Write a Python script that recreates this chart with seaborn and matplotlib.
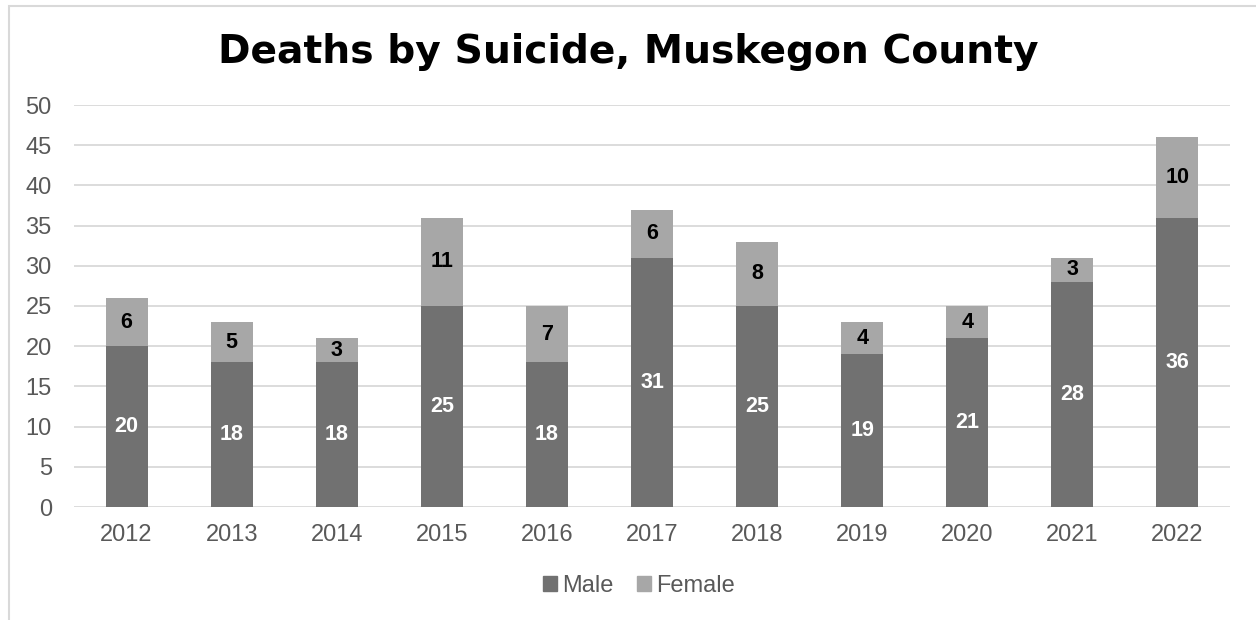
import matplotlib
matplotlib.use("Agg")
import matplotlib.pyplot as plt
import seaborn as sns
import pandas as pd
from matplotlib.patches import Rectangle, Patch

years = ["2012", "2013", "2014", "2015", "2016", "2017", "2018", "2019", "2020", "2021", "2022"]
male = [20, 18, 18, 25, 18, 31, 25, 19, 21, 28, 36]
female = [6, 5, 3, 11, 7, 6, 8, 4, 4, 3, 10]

MALE_C = "#717171"
FEMALE_C = "#A7A7A7"
TXT = "#595959"

sns.set_theme(style="white")
plt.rcParams['font.family'] = ['Liberation Sans', 'DejaVu Sans']

df = pd.DataFrame({"year": years, "male": male, "female": female})
df["total"] = df["male"] + df["female"]

fig = plt.figure(figsize=(12.56, 6.2), dpi=100)
ax = fig.add_axes([74/1256, 1-507/620, (1230-74)/1256, (507-105)/620])

sns.barplot(data=df, x="year", y="total", color=FEMALE_C, width=0.4, ax=ax,
            saturation=1, linewidth=0)
sns.barplot(data=df, x="year", y="male", color=MALE_C, width=0.4, ax=ax,
            saturation=1, linewidth=0)

for i, (m, f) in enumerate(zip(male, female)):
    ax.text(i, m/2, str(m), ha="center", va="center", color="white",
            fontsize=15.5, fontweight="bold")
    ax.text(i, m + f/2, str(f), ha="center", va="center", color="black",
            fontsize=15.5, fontweight="bold")

ax.set_xlim(-0.5, len(years) - 0.5)
ax.set_ylim(0, 50)
ax.set_yticks(range(0, 51, 5))
ax.yaxis.grid(True, color="#D9D9D9", linewidth=1.3)
ax.set_axisbelow(True)
for s in ax.spines.values():
    s.set_visible(False)
ax.tick_params(axis="both", length=0, labelsize=17, colors=TXT)
ax.tick_params(axis="y", pad=16)
ax.tick_params(axis="x", pad=12)
ax.set_xlabel("")
ax.set_ylabel("")

fig.text(628/1256, 1-52/620, "Deaths by Suicide, Muskegon County", ha="center",
         va="center", fontsize=28.3, fontweight="bold", color="black",
         family=["DejaVu Sans"])

handles = [Patch(color=MALE_C, label="Male"), Patch(color=FEMALE_C, label="Female")]
fig.legend(handles=handles, loc="center", bbox_to_anchor=(639/1256, 1-586/620),
           ncol=2, frameon=False, fontsize=17, labelcolor=TXT,
           handlelength=0.6, handleheight=0.6, handletextpad=0.2, columnspacing=1.0)

fig.patches.append(Rectangle((9/1256, -0.1), 1.2, 1-6/620+0.1, transform=fig.transFigure,
                             fill=False, edgecolor="#D9D9D9", linewidth=1.5))

fig.savefig("out.png", dpi=100)
